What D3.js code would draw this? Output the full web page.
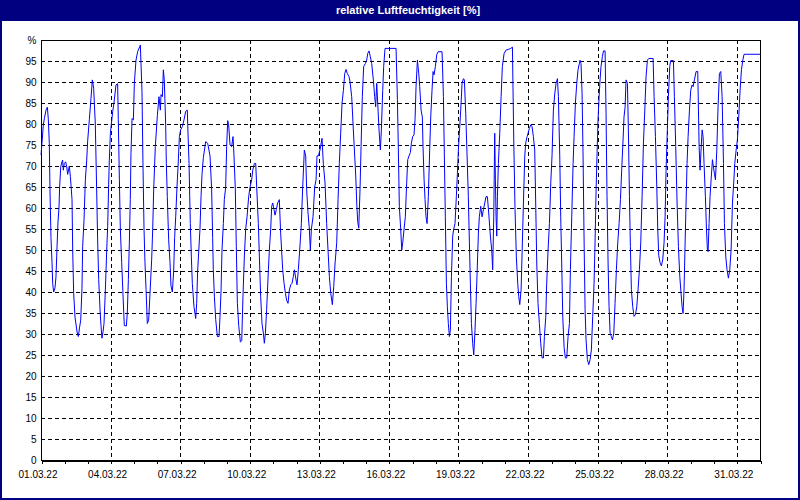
<!DOCTYPE html>
<html>
<head>
<meta charset="utf-8">
<script src="https://cdn.jsdelivr.net/npm/d3@7"></script>
<style>
  body { margin: 0; background: #ffffff; }
  svg { display: block; font-family: "Liberation Sans", Arial, sans-serif; }
  .grid line { stroke: #000; stroke-dasharray: 4,3; shape-rendering: crispEdges; }
  .axis path, .axis line { stroke: #000; shape-rendering: crispEdges; }
  .axis text { font-size: 10px; fill: #000; }
</style>
</head>
<body>
<script>
'use strict';

// hours since 01.03.22 00:00 and relative humidity
const hours = [
  0, 1.0, 2.4, 3.5, 5.2, 6.6, 7.6, 8.6, 9.3, 10.3, 11.4, 12.1, 13.1, 14.5, 15.5, 16.6, 17.6, 18.6, 19.3, 20.4,
  21.7, 22.4, 23.1, 24.1, 25.5, 26.6, 27.6, 29.3, 30.4, 32.1, 32.8, 33.8, 35.2, 37.3, 38.6, 40.0, 41.1, 42.4, 43.1, 44.5,
  45.9, 47.3, 48.3, 50.0, 51.7, 53.1, 54.5, 56.2, 57.6, 58.6, 59.7, 61.1, 62.1, 63.1, 64.2, 65.2, 66.6, 68.0, 69.0, 70.0,
  70.7, 71.8, 72.8, 74.2, 75.5, 77.6, 79.3, 80.0, 81.1, 82.1, 83.5, 84.9, 86.2, 88.3, 89.3, 90.4, 91.4, 92.4, 93.1, 94.2,
  95.6, 96.6, 98.3, 100.0, 102.1, 102.8, 104.5, 105.6, 106.6, 107.6, 108.7, 110.0, 111.4, 112.8, 114.5, 115.6, 116.6, 118.3, 120.4, 122.1,
  123.5, 124.2, 125.6, 126.6, 127.6, 129.0, 129.7, 130.7, 132.1, 133.5, 134.5, 135.9, 137.3, 138.3, 139.4, 140.7, 141.8, 143.2, 144.5, 146.3,
  148.0, 149.7, 151.4, 152.1, 153.2, 153.9, 154.5, 155.6, 156.6, 158.3, 160.1, 161.1, 162.1, 164.5, 165.6, 166.6, 168.0, 170.4, 172.5, 174.9,
  176.6, 177.6, 178.3, 179.4, 180.8, 182.5, 184.2, 185.2, 186.3, 187.3, 188.7, 189.7, 191.1, 192.1, 193.2, 194.2, 195.6, 197.3, 198.7, 199.7,
  201.1, 202.1, 203.2, 204.6, 206.3, 207.7, 209.0, 210.4, 211.8, 213.2, 214.9, 216.3, 218.0, 219.1, 220.8, 222.2, 223.2, 224.9, 226.0, 227.3,
  228.7, 230.1, 231.1, 232.2, 233.5, 235.3, 236.3, 237.7, 238.7, 239.8, 241.1, 242.2, 243.5, 244.9, 246.6, 248.0, 250.1, 251.5, 252.9, 254.2,
  255.6, 257.0, 258.4, 259.8, 261.1, 262.2, 263.6, 264.9, 266.3, 267.7, 269.4, 270.8, 272.5, 273.9, 274.9, 276.3, 277.7, 278.7, 279.8, 281.5,
  283.2, 284.6, 285.6, 287.0, 288.7, 290.8, 292.2, 293.9, 295.6, 297.0, 298.4, 299.8, 301.5, 302.9, 304.3, 306.0, 307.4, 308.7, 310.1, 311.5,
  312.9, 314.3, 315.6, 317.0, 318.7, 319.8, 321.5, 323.2, 324.6, 325.7, 326.7, 327.7, 328.8, 330.1, 331.2, 332.5, 333.9, 335.7, 337.0, 338.1,
  339.4, 340.8, 342.2, 343.9, 345.3, 346.3, 347.4, 348.4, 349.8, 351.2, 352.2, 353.6, 354.6, 356.0, 367.4, 368.8, 369.8, 370.8, 372.2, 373.3,
  374.3, 375.7, 377.0, 378.4, 379.5, 380.8, 382.2, 383.3, 384.6, 386.0, 387.1, 388.1, 389.5, 390.9, 391.9, 393.3, 394.6, 395.3, 396.4, 397.4,
  398.4, 399.5, 400.8, 402.2, 403.3, 404.6, 405.7, 406.7, 408.1, 409.5, 410.9, 415.0, 416.4, 417.4, 418.4, 419.5, 420.5, 421.5, 422.6, 423.6,
  424.7, 426.0, 427.1, 428.4, 429.8, 430.9, 431.9, 432.9, 434.3, 435.7, 437.1, 438.1, 439.5, 440.9, 442.2, 443.3, 444.3, 445.4, 446.7, 447.8,
  449.1, 450.2, 451.6, 452.6, 453.6, 455.0, 456.4, 457.8, 459.2, 460.5, 461.9, 463.3, 465.0, 466.4, 467.4, 468.5, 469.5, 470.2, 470.9, 471.6,
  472.3, 473.3, 474.7, 476.1, 477.4, 479.2, 481.2, 484.0, 486.1, 487.8, 489.2, 490.5, 491.9, 493.3, 494.3, 495.4, 496.8, 498.1, 499.2, 500.6,
  501.6, 503.0, 504.0, 505.4, 506.8, 508.1, 509.5, 510.9, 511.9, 513.0, 514.3, 515.7, 517.1, 518.5, 519.9, 520.9, 522.3, 523.3, 524.7, 526.1,
  527.5, 528.8, 530.2, 531.6, 533.0, 534.4, 535.4, 536.8, 537.8, 538.8, 539.9, 541.3, 542.6, 544.0, 545.4, 546.8, 547.8, 549.2, 550.6, 551.6,
  553.0, 554.4, 555.7, 557.8, 558.8, 559.9, 560.9, 562.0, 563.0, 564.0, 565.4, 566.8, 568.2, 569.5, 570.9, 572.3, 573.3, 574.4, 575.4, 576.4,
  577.5, 578.5, 579.5, 580.9, 582.0, 583.7, 584.7, 585.7, 586.8, 587.8, 588.9, 590.2, 591.3, 592.7, 594.0, 595.4, 596.8, 598.2, 599.6, 600.9,
  602.3, 603.3, 604.4, 605.4, 606.8, 607.8, 608.9, 609.9, 610.9, 612.3, 613.7, 615.1, 616.5, 617.8, 619.2, 620.6, 622.0, 623.4, 624.8, 626.1,
  627.5, 628.9, 633.4, 634.4, 635.8, 637.2, 638.2, 639.2, 640.6, 642.0, 643.4, 644.7, 645.8, 646.8, 647.8, 649.2, 650.6, 651.6, 654.4, 655.4,
  656.8, 658.2, 659.6, 661.0, 662.3, 663.4, 664.4, 665.4, 666.5, 667.5, 668.5, 669.6, 671.0, 672.3, 673.7, 674.8, 676.1, 677.9, 679.6, 681.0,
  682.0, 683.0, 684.1, 685.1, 686.1, 687.5, 688.6, 689.6, 690.3, 691.3, 692.3, 693.4, 694.8, 695.8, 696.8, 697.9, 699.3, 700.6, 702.0, 703.4,
  704.8, 706.2, 707.2, 708.6, 709.9, 711.3, 712.7, 714.1, 715.5, 716.8, 717.9, 719.3, 720.6, 722.0, 723.4, 724.8, 726.2, 727.5, 744.0
];

const rh = [
  72.6, 75.4, 79.8, 81.3, 83.3, 84.0, 81.0, 75.4, 64.3, 53.0, 47.0, 42.0, 40.0, 41.0, 43.6, 50.8, 56.7, 60.0, 65.0, 69.8,
  71.0, 71.4, 69.0, 70.6, 71.0, 69.8, 68.0, 70.0, 67.5, 62.0, 50.0, 39.7, 34.0, 30.5, 29.4, 31.7, 33.3, 40.9, 50.8, 57.0,
  66.7, 71.4, 76.0, 81.0, 86.0, 90.5, 88.5, 80.0, 64.3, 52.4, 43.0, 35.7, 32.0, 29.0, 30.5, 32.5, 40.5, 50.0, 55.6, 65.5,
  71.4, 77.8, 80.0, 83.0, 85.0, 89.3, 89.6, 81.0, 66.7, 55.0, 47.0, 39.0, 32.0, 31.9, 35.0, 43.0, 51.6, 62.0, 73.0, 81.3,
  81.0, 89.7, 95.2, 97.2, 98.4, 98.8, 87.7, 69.0, 55.0, 47.0, 40.6, 32.5, 33.3, 39.7, 47.6, 55.0, 64.3, 74.6, 82.0, 86.5,
  83.3, 87.0, 86.5, 92.9, 90.5, 80.0, 70.6, 62.7, 52.4, 47.0, 41.5, 40.0, 45.0, 53.0, 57.9, 65.0, 69.8, 77.0, 78.6, 79.4,
  81.0, 83.0, 83.3, 77.8, 70.6, 62.7, 56.3, 48.3, 42.0, 36.5, 33.7, 37.3, 45.0, 55.0, 62.7, 68.0, 72.0, 75.8, 75.4, 72.4,
  64.3, 53.0, 45.3, 39.0, 33.4, 29.4, 29.4, 34.0, 40.3, 50.0, 56.3, 62.0, 65.0, 74.6, 80.8, 79.8, 75.0, 74.6, 77.0, 72.4,
  64.3, 50.8, 37.3, 32.0, 28.1, 28.4, 39.0, 48.3, 55.0, 57.9, 62.7, 65.0, 66.7, 69.0, 70.6, 70.6, 65.0, 56.3, 48.3, 39.0,
  32.5, 30.2, 27.8, 30.2, 35.8, 45.3, 50.0, 55.0, 60.4, 61.2, 59.6, 58.3, 59.6, 61.2, 62.0, 54.0, 45.3, 42.1, 39.7, 38.0,
  37.3, 40.5, 41.7, 42.1, 43.7, 45.3, 43.3, 41.7, 45.3, 50.0, 56.3, 65.0, 73.8, 72.4, 64.3, 58.8, 55.0, 50.0, 55.0, 57.9,
  65.0, 66.7, 72.4, 72.4, 73.8, 76.6, 70.3, 66.0, 56.3, 50.0, 43.7, 39.7, 37.0, 41.3, 46.9, 51.7, 62.0, 70.6, 77.8, 85.0,
  88.0, 92.0, 93.0, 92.0, 91.3, 90.0, 86.5, 78.6, 72.4, 67.6, 61.2, 56.8, 55.2, 64.3, 74.6, 86.5, 93.7, 94.4, 95.2, 96.8,
  97.4, 96.0, 94.4, 90.5, 86.5, 84.1, 89.7, 85.0, 78.6, 73.8, 78.6, 88.0, 93.7, 98.0, 98.0, 85.8, 73.8, 60.4, 55.0, 50.0,
  51.7, 55.0, 57.9, 66.0, 71.5, 72.4, 73.2, 75.5, 77.0, 77.4, 81.3, 88.9, 95.2, 92.0, 88.9, 83.3, 81.7, 74.6, 66.7, 62.0,
  57.9, 56.3, 62.7, 73.8, 81.7, 88.0, 92.5, 91.7, 93.7, 96.5, 97.2, 97.2, 86.5, 72.4, 57.9, 42.1, 36.5, 32.5, 29.4, 30.9,
  43.7, 53.3, 55.0, 56.3, 62.7, 68.3, 73.8, 77.8, 83.3, 89.7, 90.8, 90.5, 82.5, 72.4, 62.7, 51.7, 42.1, 32.5, 27.8, 25.0,
  30.9, 37.3, 46.9, 54.0, 57.9, 60.4, 57.9, 59.6, 61.2, 62.7, 62.7, 58.8, 53.3, 50.0, 45.3, 57.9, 77.8, 66.7, 57.9, 53.3,
  62.7, 70.6, 77.8, 86.5, 93.7, 96.8, 97.6, 97.8, 98.0, 98.3, 76.2, 59.6, 48.3, 42.1, 39.0, 37.0, 40.5, 51.7, 61.2, 72.4,
  75.5, 77.0, 77.8, 79.0, 79.8, 79.4, 77.0, 73.8, 61.2, 46.9, 37.3, 32.5, 27.8, 24.3, 24.3, 29.4, 34.0, 42.1, 50.0, 56.3,
  66.0, 72.4, 83.3, 87.2, 89.7, 90.8, 86.5, 72.4, 57.9, 46.9, 34.0, 26.8, 24.3, 24.3, 29.4, 32.5, 45.3, 57.9, 70.6, 77.0,
  85.0, 89.7, 92.9, 95.2, 94.4, 87.2, 72.4, 51.7, 35.8, 28.6, 23.9, 22.7, 23.9, 26.2, 34.2, 42.1, 51.7, 64.3, 73.0, 81.0,
  86.5, 90.5, 93.7, 96.0, 97.4, 97.4, 82.5, 62.7, 46.9, 36.5, 30.2, 29.4, 28.6, 30.2, 37.3, 45.3, 51.7, 56.3, 62.0, 69.1,
  76.2, 81.7, 84.0, 90.5, 89.7, 78.6, 62.7, 50.8, 40.6, 36.5, 34.2, 34.6, 36.5, 40.5, 45.3, 51.7, 62.7, 75.5, 83.3, 91.3,
  95.2, 95.6, 95.6, 86.5, 77.0, 65.0, 55.0, 48.7, 47.0, 46.2, 47.8, 51.7, 57.9, 69.0, 76.2, 86.5, 93.7, 95.1, 95.1, 86.5,
  74.6, 61.2, 50.8, 43.7, 39.7, 36.5, 34.9, 40.5, 51.7, 61.2, 70.6, 77.0, 83.3, 88.0, 89.3, 88.9, 90.5, 92.5, 92.5, 74.6,
  69.0, 73.8, 78.6, 77.0, 70.6, 62.7, 55.0, 50.0, 49.6, 56.3, 62.7, 66.7, 71.5, 69.8, 68.3, 66.7, 73.8, 84.1, 92.0, 92.5,
  86.5, 70.6, 56.3, 48.3, 45.3, 43.3, 45.3, 50.0, 61.2, 66.0, 70.6, 73.8, 76.2, 81.7, 88.0, 92.9, 95.2, 96.6, 96.6
];

const yTicks = d3.range(0, 101, 5);
const title = "relative Luftfeuchtigkeit [%]";

const start = Date.UTC(2022, 2, 1);
const end = Date.UTC(2022, 3, 1);

const width = 800, height = 500;
const plotLeft = 41, plotRight = 760, plotTop = 40, plotBottom = 460;

const svg = d3.select("body").append("svg")
  .attr("width", width)
  .attr("height", height);

// background and frame
svg.append("rect")
  .attr("x", 1).attr("y", 1)
  .attr("width", width - 2).attr("height", height - 2)
  .attr("fill", "#fff")
  .attr("stroke", "#000080")
  .attr("stroke-width", 2);

// title bar
svg.append("rect")
  .attr("x", 0).attr("y", 0)
  .attr("width", width).attr("height", 21)
  .attr("fill", "#000080");

svg.append("text")
  .attr("x", 408)
  .attr("y", 14)
  .attr("text-anchor", "middle")
  .style("font-size", "11px")
  .style("font-weight", "bold")
  .attr("fill", "#fff")
  .text(title);

const x = d3.scaleUtc().domain([start, end]).range([plotLeft, plotRight]);
const y = d3.scaleLinear().domain([0, 100]).range([plotBottom, plotTop]);

// horizontal grid
svg.append("g").attr("class", "grid")
  .selectAll("line")
  .data(yTicks.filter(v => v > 0 && v < 100))
  .enter().append("line")
  .attr("x1", plotLeft).attr("x2", plotRight)
  .attr("y1", d => Math.round(y(d)) + 0.5)
  .attr("y2", d => Math.round(y(d)) + 0.5);

// vertical grid every 3 days
const labelDays = d3.utcDay.every(3).range(new Date(start), new Date(end));
svg.append("g").attr("class", "grid")
  .selectAll("line")
  .data(labelDays.filter(d => +d > start))
  .enter().append("line")
  .attr("y1", plotTop).attr("y2", plotBottom)
  .attr("x1", d => Math.round(x(d)) + 0.5)
  .attr("x2", d => Math.round(x(d)) + 0.5);

// x axis with daily ticks, labels every third day
const fmt = d3.utcFormat("%d.%m.%y");
const labelSet = new Set(labelDays.map(d => +d));
const xAxis = d3.axisBottom(x)
  .ticks(d3.utcDay.every(1))
  .tickSize(3)
  .tickPadding(7)
  .tickSizeOuter(3)
  .tickFormat(d => labelSet.has(+d) ? fmt(d) : "");

svg.append("g").attr("class", "axis")
  .attr("transform", `translate(0.5,${plotBottom + 0.5})`)
  .call(xAxis)
  .selectAll("text").attr("dx", -4);

// y axis
const yAxis = d3.axisLeft(y)
  .tickValues(yTicks)
  .tickSize(0)
  .tickPadding(5)
  .tickFormat(d => d === 100 ? "%" : d);

svg.append("g").attr("class", "axis")
  .attr("transform", `translate(${plotLeft + 0.5},0.5)`)
  .call(yAxis)
  .select(".domain").remove();

// plot frame
svg.append("rect")
  .attr("x", plotLeft + 0.5).attr("y", plotTop + 0.5)
  .attr("width", plotRight - plotLeft).attr("height", plotBottom - plotTop)
  .attr("fill", "none")
  .attr("stroke", "#000")
  .style("shape-rendering", "crispEdges");

// humidity line
const points = hours.map((h, i) => ({ t: new Date(start + h * 3600000), v: rh[i] }));
const line = d3.line()
  .x(d => x(d.t))
  .y(d => y(d.v));

svg.append("path")
  .datum(points)
  .attr("fill", "none")
  .attr("stroke", "#0000ff")
  .attr("stroke-width", 1)
  .attr("d", line);
</script>
</body>
</html>
